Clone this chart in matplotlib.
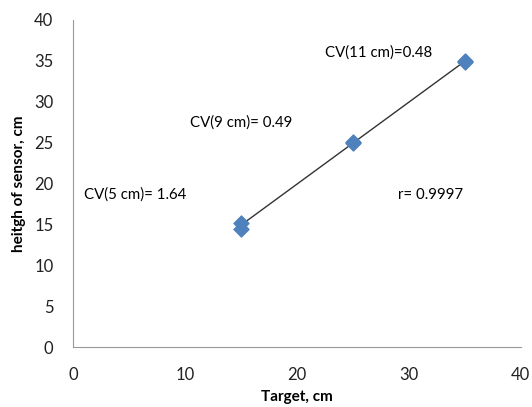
import numpy as np
import matplotlib.pyplot as plt

plt.rcParams['font.family'] = ['Lato', 'DejaVu Sans']

# measured heights for each target distance
target = [15, 15, 25, 25, 35, 35]
height = [15.2, 14.5, 25.0, 25.1, 35.0, 34.8]

xticks = [0, 10, 20, 30, 40]
yticks = [0, 5, 10, 15, 20, 25, 30, 35, 40]

notes = ['CV(5 cm)= 1.64', 'CV(9 cm)= 0.49', 'CV(11 cm)=0.48', 'r= 0.9997']
note_x = [1.0, 10.5, 22.5, 29.0]
note_y = [18.6, 27.4, 36.0, 18.6]

fig = plt.figure(figsize=(5.32, 4.07), dpi=100)
ax = fig.add_axes([0.137, 0.147, 0.842, 0.804])

# linear trend line
k, b = np.polyfit(target, height, 1)
xs = np.array([min(target), max(target)])
ax.plot(xs, k * xs + b, color='#333333', lw=1.0, zorder=2)
ax.scatter(target, height, marker='D', s=58, color='#4F81BD', zorder=3)

for t, x, y in zip(notes, note_x, note_y):
    ax.text(x, y, t, fontsize=10.8, va='center', ha='left')

ax.set_xlim(0, 40)
ax.set_ylim(0, 40)
ax.set_xticks(xticks)
ax.set_yticks(yticks)
ax.tick_params(length=0, labelsize=12, colors='#222222')
ax.tick_params(axis='x', pad=14)
ax.tick_params(axis='y', pad=14)
for s in ['top', 'right']:
    ax.spines[s].set_visible(False)
for s in ['left', 'bottom']:
    ax.spines[s].set_color('#999999')
ax.set_xlabel('Target, cm', fontsize=11, fontweight='bold', labelpad=5)
ax.set_ylabel('heitgh of sensor, cm', fontsize=11, fontweight='bold', labelpad=6)

fig.savefig('out.png', dpi=100)
